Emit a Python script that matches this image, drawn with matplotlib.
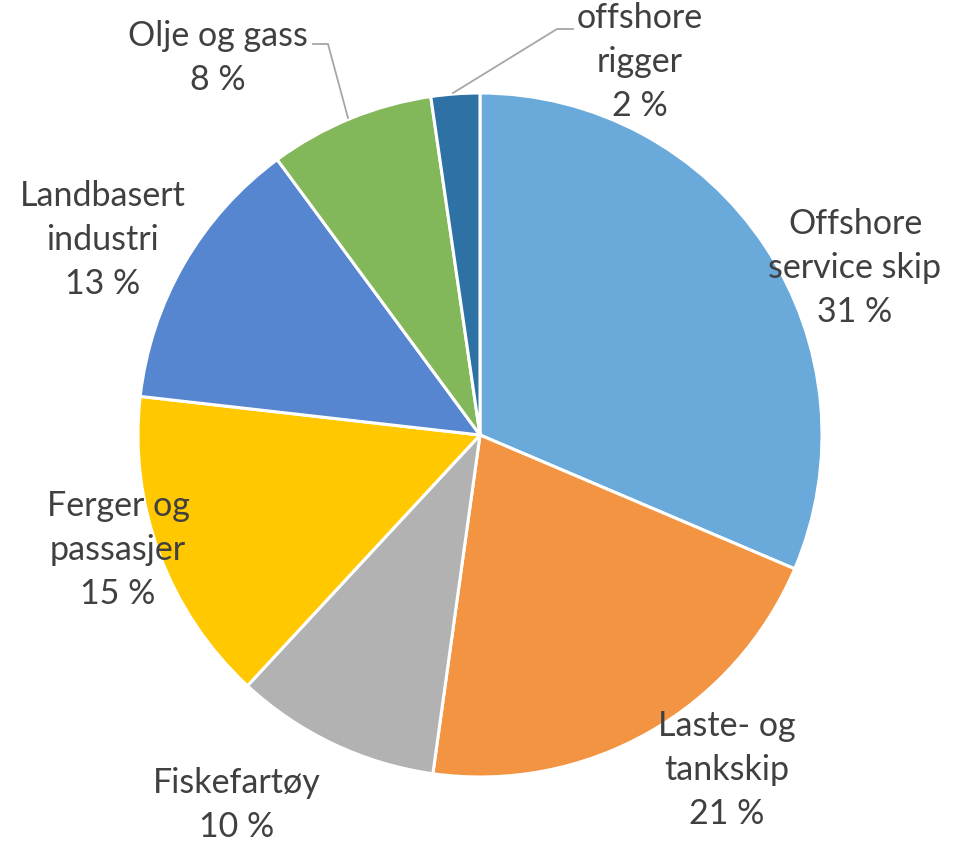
import matplotlib
matplotlib.use("Agg")
import matplotlib.pyplot as plt

categories = ["Offshore service skip", "Laste- og tankskip", "Fiskefartøy",
              "Ferger og passasjer", "Landbasert industri", "Olje og gass", "offshore rigger"]
values = [31.4, 20.8, 9.7, 14.9, 13.1, 7.8, 2.3]
label_texts = ["Offshore\nservice skip\n31 %", "Laste- og\ntankskip\n21 %", "Fiskefartøy\n10 %",
               "Ferger og\npassasjer\n15 %", "Landbasert\nindustri\n13 %", "Olje og gass\n8 %",
               "offshore\nrigger\n2 %"]
colors = ["#6AAADB", "#F39442", "#B2B2B2", "#FFC800", "#5586CF", "#82B75A", "#2E72A5"]

W, H = 955, 842
cx, cy, R = 480, 435, 342

fig = plt.figure(figsize=(W / 100, H / 100), dpi=100)
ax = fig.add_axes([(cx - R) / W, 1 - (cy + R) / H, 2 * R / W, 2 * R / H])
ax.pie(values, colors=colors, startangle=90, counterclock=False,
       wedgeprops=dict(edgecolor="white", linewidth=2.2), radius=1)
ax.set_xlim(-1, 1)
ax.set_ylim(-1, 1)
ax.set_aspect("auto")
ax.axis("off")

def to_data(px, py):
    return (px - cx) / R, (cy - py) / R

label_pos = [(855, 268), (727, 770), (237, 805), (118, 550), (103, 240), (218, 58), (640, 62)]
for txt, (px, py) in zip(label_texts, label_pos):
    x, y = to_data(px, py)
    ax.text(x, y, txt, ha="center", va="center", fontsize=24.5, family="Lato",
            color="#404040", linespacing=1.45, clip_on=False)

# leader lines
for pts in [[(313, 44), (328, 44), (348, 118)], [(573, 29), (557, 29), (453, 93)]]:
    xs, ys = zip(*[to_data(*p) for p in pts])
    ax.plot(xs, ys, color="#A6A6A6", linewidth=1.3, clip_on=False)

fig.savefig("out.png", dpi=100)
